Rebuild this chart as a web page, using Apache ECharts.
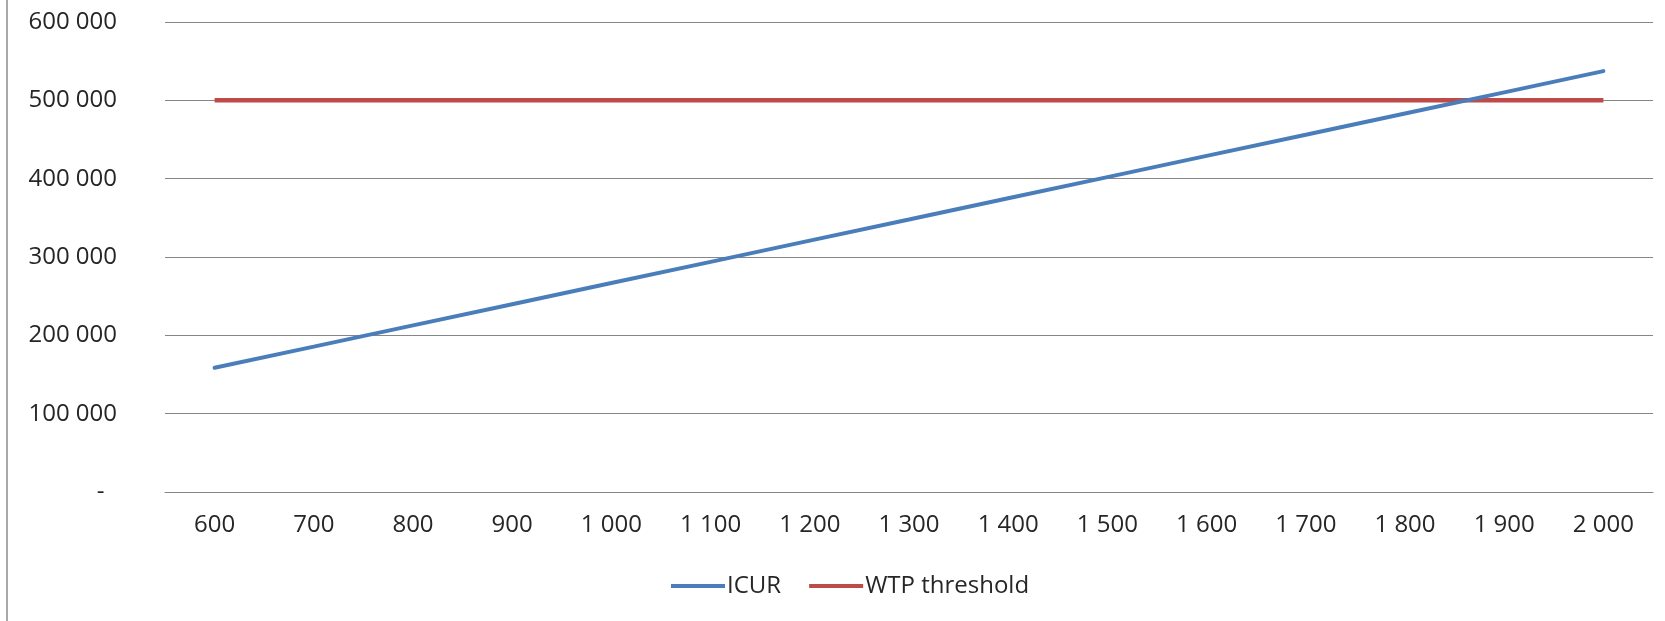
<!DOCTYPE html>
<html>
<head>
<meta charset="utf-8">
<script src="https://cdn.jsdelivr.net/npm/echarts@6/dist/echarts.min.js"></script>
<style>
    html, body {margin: 0; padding: 0; background: #fff;}
    #chart {width: 1665px; height: 621px;}
</style>
</head>
<body>
<div id="chart"></div>
<script>
// x categories (price)
const categories = ['600', '700', '800', '900', '1000', '1100', '1200', '1300', '1400', '1500', '1600', '1700', '1800', '1900', '2000'];
// cost per QALY
const icurValues = [158600, 185600, 212700, 239700, 266800, 293800, 320900, 347900, 375000, 402000, 429100, 456100, 483200, 510200, 537300];
const wtpValues = [500000, 500000, 500000, 500000, 500000, 500000, 500000, 500000, 500000, 500000, 500000, 500000, 500000, 500000, 500000];
const seriesNames = ['ICUR', 'WTP threshold'];

// "1 000" style, with a dash for zero
function fmt(v) {
    v = Number(v);
    if (v === 0) return '-  ';
    return String(v).replace(/\B(?=(\d{3})+(?!\d))/g, ' ');
}

let myChart = echarts.init(document.getElementById('chart'));

let textColor = '#262626';
let fontFamily = '"Open Sans", sans-serif';

let option = {
    backgroundColor: '#fff',
    animation: false,
    grid: {
        left: 165,
        right: 12,
        top: 22,
        bottom: 129
    },
    legend: {
        left: 666,
        top: 569,
        icon: 'rect',
        itemWidth: 54,
        itemHeight: 4,
        itemGap: 28,
        textStyle: {
            color: textColor,
            fontFamily: fontFamily,
            fontSize: 24,
            padding: [0, 0, 0, -3]
        },
        data: seriesNames
    },
    xAxis: {
        type: 'category',
        data: categories,
        boundaryGap: true,
        axisLine: {lineStyle: {color: '#868686', width: 1}},
        axisTick: {show: false},
        axisLabel: {
            interval: 0,
            margin: 21,
            color: textColor,
            fontFamily: fontFamily,
            fontSize: 24,
            formatter: fmt
        }
    },
    yAxis: {
        type: 'value',
        min: 0,
        max: 600000,
        interval: 100000,
        axisLine: {show: false},
        axisTick: {show: false},
        splitLine: {lineStyle: {color: '#868686', width: 1}},
        axisLabel: {
            margin: 48,
            color: textColor,
            fontFamily: fontFamily,
            fontSize: 24,
            formatter: fmt
        }
    },
    graphic: [
        {
            type: 'line',
            shape: {x1: 7, y1: 0, x2: 7, y2: 621},
            style: {stroke: '#8c8c8c', lineWidth: 1.5}
        }
    ],
    series: [
        {
            name: seriesNames[0],
            type: 'line',
            data: icurValues,
            showSymbol: false,
            symbol: 'none',
            color: '#4a7ebb',
            lineStyle: {color: '#4a7ebb', width: 4, cap: 'round'},
            z: 3
        },
        {
            name: seriesNames[1],
            type: 'line',
            data: wtpValues,
            showSymbol: false,
            symbol: 'none',
            color: '#be4b48',
            lineStyle: {color: '#be4b48', width: 4.5},
            z: 2
        }
    ]
};

myChart.setOption(option);
</script>
</body>
</html>
